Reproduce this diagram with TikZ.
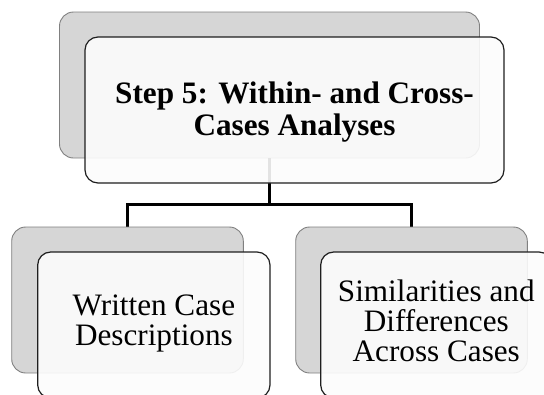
\documentclass[tikz,border=0pt]{standalone}
\usepackage{fontspec}
\setmainfont{Liberation Serif}
\begin{document}
\begin{tikzpicture}[x=1pt,y=-1pt,
  backcard/.style={draw=black!50, line width=0.9pt, fill=black!16, rounded corners=14pt},
  frontcard/.style={draw=black!88, line width=1.2pt, fill=black!1, fill opacity=0.9, rounded corners=13pt},
  link/.style={draw=black, line width=3pt},
  headtext/.style={font=\fontsize{31.2}{31.7}\selectfont\bfseries, align=center, inner sep=0pt},
  leaftext/.style={font=\fontsize{31.2}{30}\selectfont, align=center, inner sep=0pt}]
\useasboundingbox (0,0) rectangle (544,394);
\clip (0,0) rectangle (544,394);

% top card: shadow card, connectors, then the front card
\draw[backcard] (59.5,12) rectangle (479.5,158);
\coordinate (topout) at (269.5,158);
\coordinate (bus) at (269.5,204.5);
\coordinate (busL) at (127.5,204.5);
\coordinate (busR) at (411.5,204.5);
\coordinate (leftin) at (127.5,227);
\coordinate (rightin) at (411.5,227);
\draw[link] (topout) -- (bus);
\draw[link] (leftin) -- (busL) -- (busR) -- (rightin);
\draw[frontcard] (85,37) rectangle (504,183);
\node[headtext] (head) at (294.5,111.8) {Step 5: Within- and Cross-\\Cases Analyses};

% left child
\draw[backcard] (11.7,227) rectangle (243.3,373);
\draw[frontcard] (37.7,252) rectangle (270,398);
\node[leaftext] (written) at (153.9,323.6) {Written Case\\Descriptions};

% right child
\draw[backcard] (295.7,227) rectangle (527.3,373);
\draw[frontcard] (320.7,252) rectangle (552,398);
\node[leaftext] (similar) at (436.3,321.3) {Similarities and\\Differences\\Across Cases};
\end{tikzpicture}
\end{document}
